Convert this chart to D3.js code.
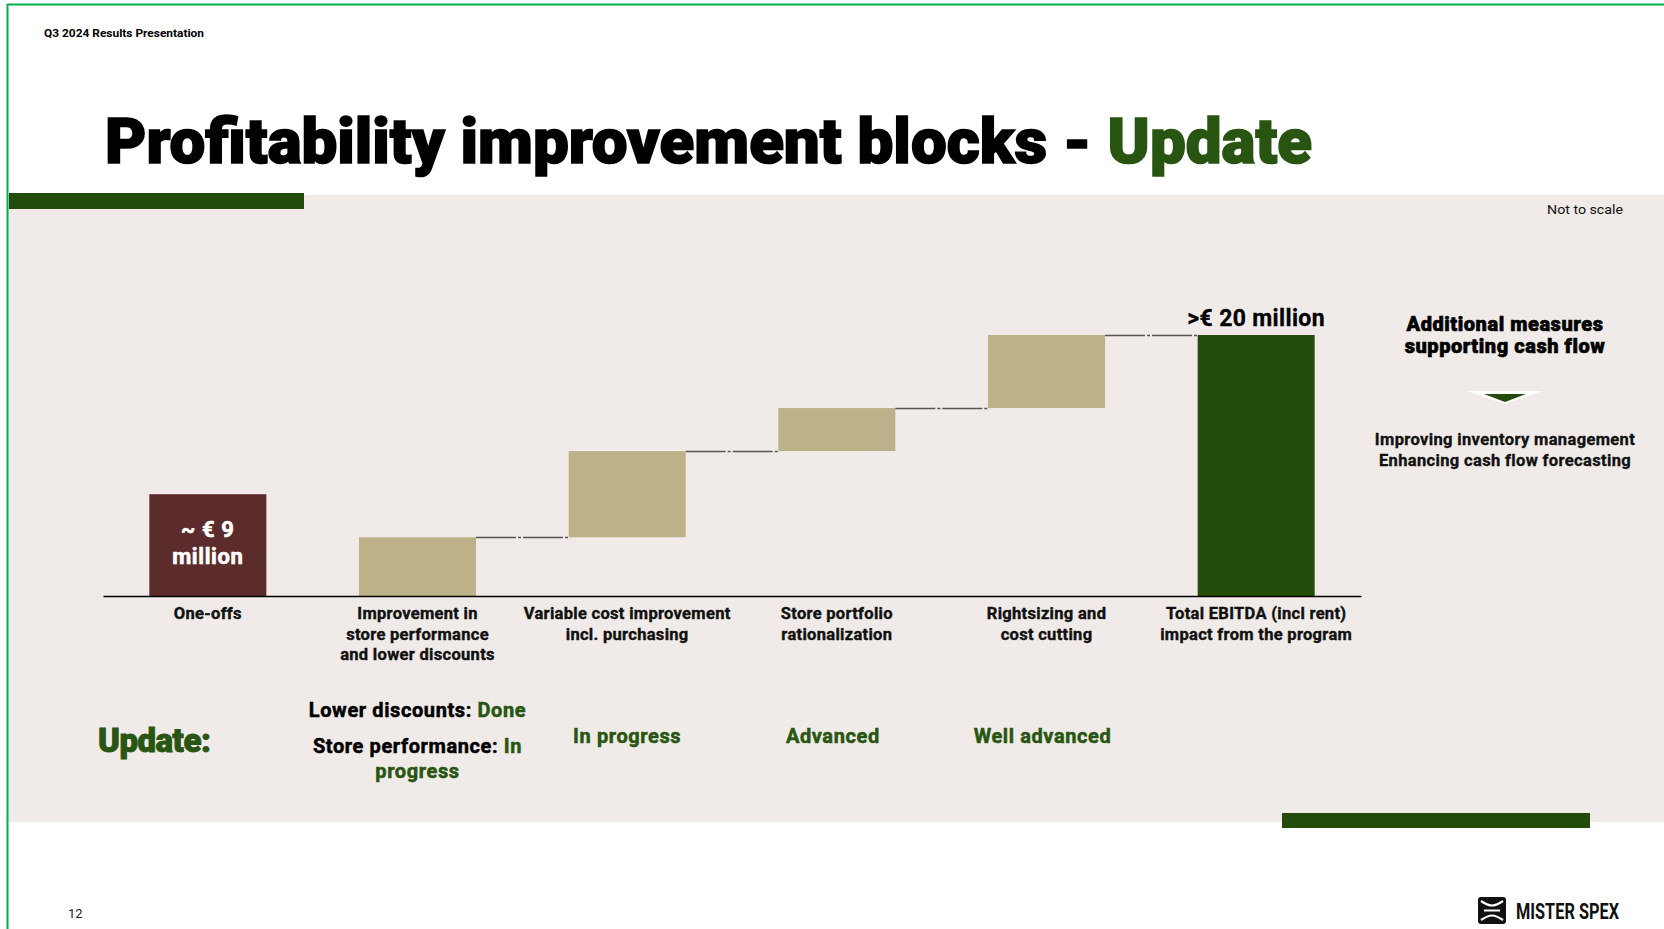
<!DOCTYPE html>
<head>
  <meta charset="utf-8">
  <script src="https://d3js.org/d3.v7.min.js"></script>
  <style>
    body { margin:0; background:#fff; }
    text { font-family: Roboto, "Liberation Sans", sans-serif; }
  </style>
</head>

<body>
  <script>

  var width = 1664;
  var height = 929;

  // categories of the waterfall, left to right
  var categories = ["One-offs", "Store performance", "Variable cost", "Store portfolio", "Rightsizing", "Total"];
  var categoryLabels = [
    ["One-offs"],
    ["Improvement in", "store performance", "and lower discounts"],
    ["Variable cost improvement", "incl. purchasing"],
    ["Store portfolio", "rationalization"],
    ["Rightsizing and", "cost cutting"],
    ["Total EBITDA (incl rent)", "impact from the program"]
  ];
  // bar heights as drawn (chart is "not to scale"), in EUR million units
  var oneOffValue = 7.8;
  var stepValues = [4.5, 6.6, 3.3, 5.6];
  var totalValue = 20;

  var oneOffLabel = ["~ € 9", "million"];
  var totalLabel = ">€ 20 million";

  // status row under each block
  var statusText = ["", "", "In progress", "Advanced", "Well advanced", ""];

  var sideTitle = ["Additional measures", "supporting cash flow"];
  var sideItems = ["Improving inventory management", "Enhancing cash flow forecasting"];

  var colors = {
    oneOff: "#5b2c2b",
    step: "#bdb189",
    total: "#234c0c",
    green: "#285511",
    panel: "#f0ebe8",
    border: "#00b050"
  };

  var svg = d3.select("body").append("svg")
    .attr("width", width)
    .attr("height", height);

  // page frame
  svg.append("rect").attr("x", 0).attr("y", 0).attr("width", width).attr("height", height).attr("fill", "#fff");
  svg.append("rect").attr("x", 8).attr("y", 195).attr("width", width - 8).attr("height", 627).attr("fill", colors.panel);
  svg.append("line").attr("x1", 7).attr("x2", width).attr("y1", 4.5).attr("y2", 4.5)
    .attr("stroke", colors.border).attr("stroke-width", 2);
  svg.append("line").attr("x1", 7.5).attr("x2", 7.5).attr("y1", 4).attr("y2", height)
    .attr("stroke", colors.border).attr("stroke-width", 2);
  svg.append("rect").attr("x", 9).attr("y", 193).attr("width", 295).attr("height", 16).attr("fill", colors.total);
  svg.append("rect").attr("x", 1282).attr("y", 813).attr("width", 308).attr("height", 15).attr("fill", colors.total);

  svg.append("text").attr("x", 44).attr("y", 37)
    .attr("font-family", "'Liberation Sans', Arial, sans-serif")
    .attr("font-size", 11.5).attr("font-weight", "bold")
    .attr("textLength", 160).attr("lengthAdjust", "spacingAndGlyphs")
    .text("Q3 2024 Results Presentation");

  var title = svg.append("text").attr("x", 105).attr("y", 163)
    .attr("font-size", 63).attr("font-weight", 900)
    .attr("stroke-width", 1.6)
    .attr("textLength", 1207).attr("lengthAdjust", "spacingAndGlyphs");
  title.append("tspan").attr("fill", "#000").attr("stroke", "#000").text("Profitability improvement blocks - ");
  title.append("tspan").attr("fill", colors.green).attr("stroke", colors.green).text("Update");

  svg.append("text").attr("x", 1623).attr("y", 214).attr("text-anchor", "end")
    .attr("font-family", "'Liberation Sans', Arial, sans-serif")
    .attr("font-size", 13).attr("fill", "#111")
    .attr("textLength", 76).attr("lengthAdjust", "spacingAndGlyphs")
    .text("Not to scale");

  // scales
  var xScale = d3.scaleBand()
    .domain(categories)
    .range([103, 1361])
    .paddingInner(0.442)
    .paddingOuter(0.221);

  var yScale = d3.scaleLinear()
    .domain([0, totalValue])
    .range([596, 335]);

  // build waterfall records
  var bars = [];
  bars.push({ key: categories[0], y0: 0, y1: oneOffValue, color: colors.oneOff });
  var running = 0;
  stepValues.forEach(function(v, i) {
    bars.push({ key: categories[i + 1], y0: running, y1: running + v, color: colors.step });
    running += v;
  });
  bars.push({ key: categories[5], y0: 0, y1: totalValue, color: colors.total });

  var g = svg.append("g");

  g.selectAll(".bar")
    .data(bars)
    .enter()
    .append("rect")
    .attr("class", "bar")
    .attr("x", function(d) { return xScale(d.key); })
    .attr("y", function(d) { return yScale(d.y1); })
    .attr("width", xScale.bandwidth())
    .attr("height", function(d) { return yScale(d.y0) - yScale(d.y1); })
    .attr("fill", function(d) { return d.color; });

  // connectors between steps and total
  var connectors = bars.slice(1, 5);
  g.selectAll(".connector")
    .data(connectors)
    .enter()
    .append("line")
    .attr("class", "connector")
    .attr("x1", function(d) { return xScale(d.key) + xScale.bandwidth(); })
    .attr("x2", function(d, i) { return xScale(categories[i + 2]); })
    .attr("y1", function(d) { return Math.round(yScale(d.y1)) + 0.5; })
    .attr("y2", function(d) { return Math.round(yScale(d.y1)) + 0.5; })
    .attr("stroke", "#555")
    .attr("stroke-width", 1.5)
    .attr("stroke-dasharray", "40,2,3,2");

  // baseline
  var axis = d3.axisBottom(xScale).tickSize(0).tickFormat("");
  var axisG = svg.append("g").attr("transform", "translate(0," + yScale(0) + ")").call(axis);
  axisG.select(".domain").attr("stroke", "#000").attr("stroke-width", 1.5);

  // category labels
  var labels = svg.selectAll(".cat")
    .data(categories)
    .enter()
    .append("text")
    .attr("class", "cat")
    .attr("text-anchor", "middle")
    .attr("font-size", 16.5)
    .attr("font-weight", "bold")
    .attr("letter-spacing", 0.3)
    .attr("fill", "#111")
    .attr("stroke", "#111")
    .attr("stroke-width", 0.4);
  labels.each(function(d, i) {
    var t = d3.select(this);
    categoryLabels[i].forEach(function(line, j) {
      t.append("tspan")
        .attr("x", xScale(d) + xScale.bandwidth() / 2)
        .attr("y", 619 + j * 20.7)
        .text(line);
    });
  });

  // value labels
  var cx0 = xScale(categories[0]) + xScale.bandwidth() / 2;
  svg.selectAll(".oneoff")
    .data(oneOffLabel)
    .enter()
    .append("text")
    .attr("x", cx0)
    .attr("y", function(d, i) { return 537 + i * 27; })
    .attr("text-anchor", "middle")
    .attr("font-size", 22)
    .attr("font-weight", "bold")
    .attr("letter-spacing", 0.6)
    .attr("fill", "#fff")
    .attr("stroke", "#fff")
    .attr("stroke-width", 0.6)
    .text(function(d) { return d; });

  svg.append("text")
    .attr("x", xScale(categories[5]) + xScale.bandwidth() / 2)
    .attr("y", yScale(totalValue) - 9)
    .attr("text-anchor", "middle")
    .attr("font-size", 23)
    .attr("font-weight", "bold")
    .attr("letter-spacing", 0.35)
    .attr("fill", "#000")
    .attr("stroke", "#000")
    .attr("stroke-width", 0.3)
    .text(totalLabel);

  // side panel
  var sideX = 1505;
  svg.selectAll(".sideTitle")
    .data(sideTitle)
    .enter()
    .append("text")
    .attr("x", sideX)
    .attr("y", function(d, i) { return 331 + i * 22; })
    .attr("text-anchor", "middle")
    .attr("font-size", 20)
    .attr("font-weight", 900)
    .attr("letter-spacing", 0.55)
    .attr("fill", "#000")
    .attr("stroke", "#000")
    .attr("stroke-width", 0.6)
    .text(function(d) { return d; });

  svg.append("path")
    .attr("d", "M1467,391 L1543,391 L1505,404 Z")
    .attr("fill", "#fff");
  svg.append("path")
    .attr("d", "M1484,394 L1526,394 L1505,402 Z")
    .attr("fill", colors.total);

  svg.selectAll(".sideItem")
    .data(sideItems)
    .enter()
    .append("text")
    .attr("x", sideX)
    .attr("y", function(d, i) { return 445 + i * 21; })
    .attr("text-anchor", "middle")
    .attr("font-size", 16.5)
    .attr("font-weight", "bold")
    .attr("letter-spacing", 0.35)
    .attr("fill", "#111")
    .attr("stroke", "#111")
    .attr("stroke-width", 0.35)
    .text(function(d) { return d; });

  // update row
  svg.append("text").attr("x", 98).attr("y", 752)
    .attr("font-size", 33).attr("font-weight", 900)
    .attr("letter-spacing", -0.5)
    .attr("fill", colors.green)
    .attr("stroke", colors.green)
    .attr("stroke-width", 0.9)
    .text("Update:");

  var cx1 = xScale(categories[1]) + xScale.bandwidth() / 2;
  var updStyle = function(sel) {
    sel.attr("text-anchor", "middle")
      .attr("font-size", 20).attr("font-weight", "bold")
      .attr("letter-spacing", 0.6).attr("stroke-width", 0.5);
  };
  var upd = svg.append("text").call(updStyle);
  var l1 = upd.append("tspan").attr("x", cx1).attr("y", 717);
  l1.append("tspan").attr("fill", "#000").attr("stroke", "#000").text("Lower discounts: ");
  l1.append("tspan").attr("fill", colors.green).attr("stroke", colors.green).text("Done");
  var upd2 = svg.append("text").call(updStyle);
  var l2 = upd2.append("tspan").attr("x", cx1).attr("y", 753);
  l2.append("tspan").attr("fill", "#000").attr("stroke", "#000").text("Store performance: ");
  l2.append("tspan").attr("fill", colors.green).attr("stroke", colors.green).text("In");
  upd2.append("tspan").attr("x", cx1).attr("y", 778)
    .attr("fill", colors.green).attr("stroke", colors.green).text("progress");

  svg.selectAll(".status")
    .data(categories)
    .enter()
    .append("text")
    .attr("class", "status")
    .attr("x", function(d) { return xScale(d) + xScale.bandwidth() / 2; })
    .attr("y", 743)
    .attr("dx", function(d, i) { return i > 2 ? -4 : 0; })
    .attr("fill", colors.green)
    .attr("stroke", colors.green)
    .call(updStyle)
    .text(function(d, i) { return statusText[i]; });

  // footer
  svg.append("text").attr("x", 68).attr("y", 918)
    .attr("font-family", "'Liberation Sans', Arial, sans-serif")
    .attr("font-size", 13).attr("fill", "#222").text("12");

  var logo = svg.append("g").attr("transform", "translate(1478,897)");
  logo.append("rect").attr("width", 28).attr("height", 27).attr("rx", 3).attr("fill", "#111");
  logo.append("path")
    .attr("d", "M3,4 C12,10 16,10 25,4 M3,23 C12,17 16,17 25,23 M6,13.5 L22,13.5")
    .attr("stroke", "#fff").attr("stroke-width", 2.2).attr("fill", "none");
  svg.append("text").attr("x", 1516).attr("y", 919)
    .attr("font-family", "'DejaVu Sans Condensed', 'DejaVu Sans', sans-serif")
    .attr("font-size", 22).attr("font-weight", "bold").attr("fill", "#111")
    .attr("textLength", 103).attr("lengthAdjust", "spacingAndGlyphs")
    .text("MISTER SPEX");

  </script>
</body>
